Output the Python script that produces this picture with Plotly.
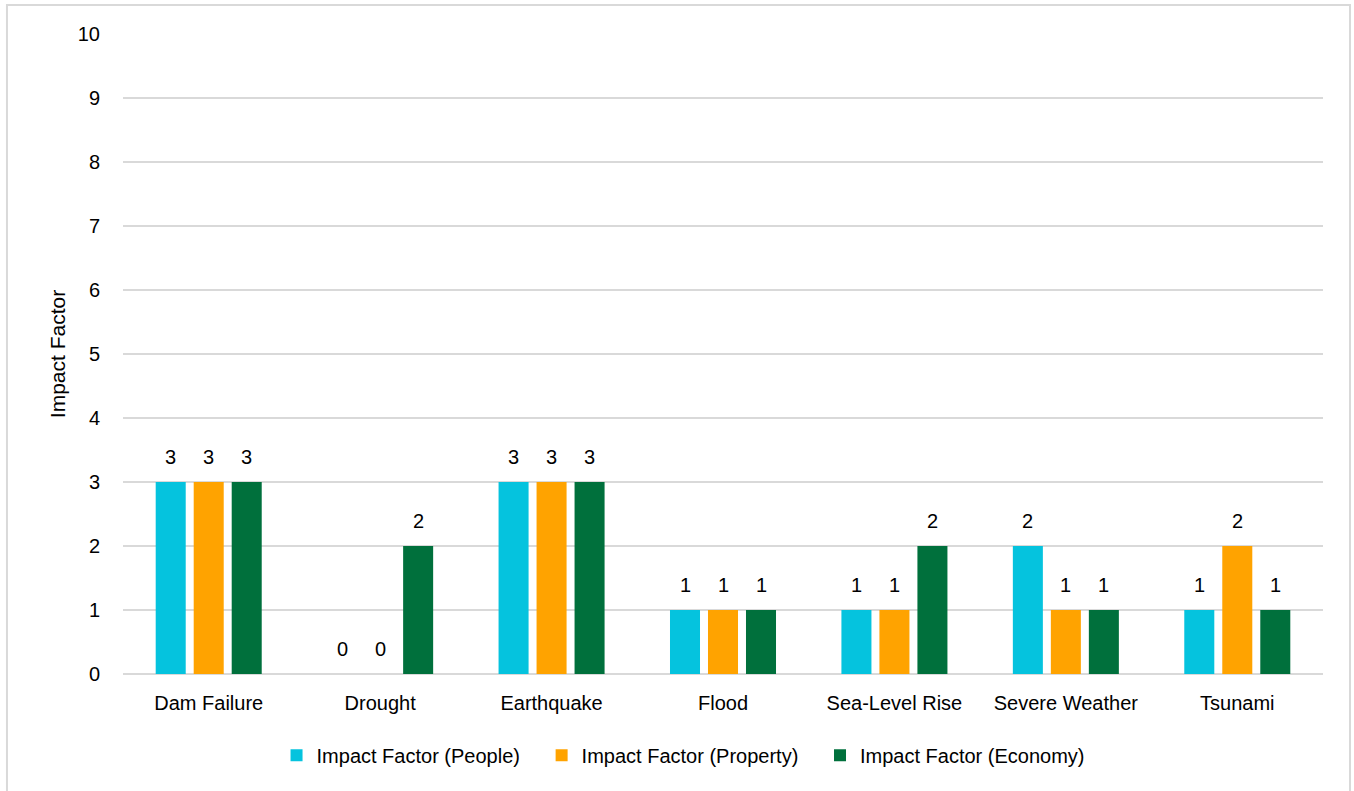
import plotly.graph_objects as go

categories = ["Dam Failure", "Drought", "Earthquake", "Flood", "Sea-Level Rise", "Severe Weather", "Tsunami"]
people = [3, 0, 3, 1, 1, 2, 1]
property_ = [3, 0, 3, 1, 1, 1, 2]
economy = [3, 2, 3, 1, 2, 1, 1]
series_names = ["Impact Factor (People)", "Impact Factor (Property)", "Impact Factor (Economy)"]
colors = ["#05C3DE", "#FFA300", "#00703C"]

FONT = "Liberation Sans, Arial, sans-serif"
NBSP = "\u00a0"
fig = go.Figure()
all_series = [people, property_, economy]
for i, (name, vals, col) in enumerate(zip(series_names, all_series, colors)):
    label = name + (NBSP * 3 if i < 2 else "")
    fig.add_trace(go.Bar(
        x=categories, y=vals, name=label, marker=dict(color=col, line=dict(width=0)),
        cliponaxis=False,
    ))
    shift = (i - 1) * 38
    for cat, v in zip(categories, vals):
        fig.add_annotation(x=cat, y=v, xref="x", yref="y", text=str(v), showarrow=False,
                           xshift=shift, yshift=25, yanchor="middle",
                           font=dict(size=20, color="#000000", family=FONT))

fig.update_layout(
    width=1354, height=791,
    margin=dict(l=123, r=31, t=34, b=117),
    paper_bgcolor="white", plot_bgcolor="white",
    font=dict(family=FONT, size=20, color="#000000"),
    barmode="group", bargap=0.335, bargroupgap=0.21,
    legend=dict(orientation="h", x=0.4667, xanchor="center", y=-0.127, yanchor="middle",
                font=dict(size=20), itemwidth=30, traceorder="normal"),
    yaxis=dict(range=[0, 10], dtick=1, showgrid=True, gridcolor="#D9D9D9", gridwidth=2,
               zeroline=True, zerolinecolor="#D9D9D9", zerolinewidth=2,
               title=dict(text="Impact Factor", font=dict(size=21), standoff=6),
               ticklabelstandoff=22, showline=False),
    xaxis=dict(showgrid=False, showline=False, ticklabelstandoff=15),
    showlegend=True,
)
fig.add_shape(type="rect", xref="paper", yref="paper",
              x0=-0.0967, x1=1.0225, y0=-0.2, y1=1.0453,
              line=dict(color="#D9D9D9", width=2), fillcolor="rgba(0,0,0,0)", layer="below")
fig.write_html("out.html", config={"displayModeBar": False},
               post_script="document.body.style.margin='0px';")
